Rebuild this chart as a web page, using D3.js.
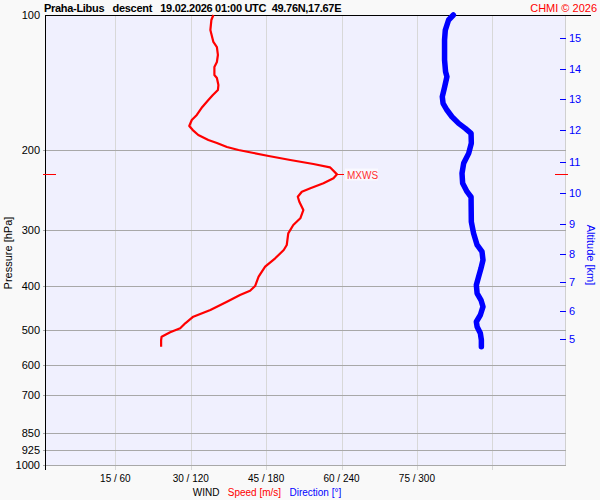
<!DOCTYPE html>
<html lang="en">
<head>
<meta charset="UTF-8">
<title>Praha-Libus descent wind</title>
<script src="https://cdn.jsdelivr.net/npm/d3@7"></script>
<style>
  body { margin: 0; background: #f9f9f9; }
  svg { display: block; font-family: "Liberation Sans", Arial, sans-serif; }
  .pre { white-space: pre; }
</style>
</head>
<body>
<div id="chart"></div>
<script>
    // Wind speed profile: pressure [hPa] and speed [m/s]
    const speedP = [100, 102.6, 108, 114.8, 117.8, 122.7, 127.2, 130.5, 135.9, 138, 143.1, 146.8, 150.6,
        154.5, 160.1, 166.8, 171.1, 176.5, 180.2, 184.8, 189.6, 192.5, 196.5, 199.5, 202.6, 205.7, 210,
        214.3, 218, 226, 230.6, 236.6, 242.7, 247, 253.4, 260, 271.3, 283, 292.9, 305.6, 324.4, 332.8,
        347.3, 362.5, 381.5, 400.2, 410, 419.1, 433.6, 452.5, 468.2, 484.3, 496.9, 507.2, 518.7, 527.5, 546];
    const speedV = [34.5, 34.1, 33.9, 34.5, 35.2, 35.4, 35.2, 34.7, 34.7, 35.2, 35.5, 35.4, 34.4,
        33.5, 32.3, 31.2, 30.2, 29.7, 30.4, 31.5, 33.5, 35.2, 37.2, 39.5, 42.5, 45.5, 49.8,
        54.4, 57.7, 59.1, 58.4, 56.4, 53.8, 52.1, 51.3, 51.6, 52.4, 51.8, 50.4, 49.4, 49.1, 48.5,
        46.8, 44.8, 43.5, 42.8, 41.8, 39.8, 37.2, 33.9, 30.5, 28.9, 27.9, 25.9, 24.2, 24.1, 24.1];

    // Wind direction profile: pressure [hPa] and direction [deg]
    const dirP = [100, 102.6, 108, 113.6, 125.9, 133.7, 137.1, 145.5, 151.9, 157.1, 162.6, 168.3, 174.1,
        178.6, 183.2, 192.8, 203, 213.6, 224.8, 236.6, 247, 253.8, 288, 305.6, 324.4, 335.7, 350.3,
        365.5, 381.5, 398.1, 415.3, 429.9, 444.8, 464.2, 480.4, 492.8, 509.7, 527.5, 546];
    const dirV = [329, 325.2, 322.6, 322, 322, 322.8, 323.9, 321.8, 320.2, 320.8, 323.9, 327.9, 333.2,
        338.5, 343.1, 343.3, 341.2, 337.2, 335.9, 336.4, 339.9, 343.1, 343.3, 345.1, 347.9, 351.8, 352.6,
        351, 349.1, 347.3, 347.9, 351, 352.6, 350.5, 347.3, 347.9, 350.5, 351.3, 351.3];

    // Max wind
    const maxWindP = 226;
    const maxWindV = 59.1;

    // Axes
    const pressureTicks = [100, 200, 300, 400, 500, 600, 700, 850, 925, 1000];
    const speedTicks = [15, 30, 45, 60, 75, 90];
    const windLabels = ["15 / 60", "30 / 120", "45 / 180", "60 / 240", "75 / 300", ""];
    const altitudeKm = [5, 6, 7, 8, 9, 10, 11, 12, 13, 14, 15];
    const altitudeP = [524.8, 454.8, 392.7, 340.2, 291.9, 249, 211.8, 180.4, 153.9, 132, 112.7];

    const W = 600, H = 500;
    const plot = { left: 45, right: 566, top: 15, bottom: 465 };

    const svg = d3.select("#chart").append("svg")
        .attr("width", W)
        .attr("height", H);

    // wind scales share the same pixels: 0 m/s and 0 deg sit at x=40
    const y = d3.scaleLog().domain([100, 1000]).range([plot.top, plot.bottom]);
    const xs = d3.scaleLinear().domain([0, 90]).range([40, 492.3]);
    const xd = d3.scaleLinear().domain([0, 360]).range([40, 492.3]);

    // plot background
    svg.append("rect")
        .attr("x", plot.left).attr("y", plot.top)
        .attr("width", plot.right - plot.left).attr("height", plot.bottom - plot.top)
        .attr("fill", "#f0f0fe");

    // vertical grid
    svg.selectAll(".vgrid")
        .data(speedTicks)
        .enter().append("line")
        .attr("class", "vgrid")
        .attr("x1", d => Math.round(xs(d)) + 0.5).attr("x2", d => Math.round(xs(d)) + 0.5)
        .attr("y1", plot.top).attr("y2", plot.bottom + 5)
        .attr("stroke", "#d8d8d8");

    svg.append("line")
        .attr("x1", plot.right - 0.5).attr("x2", plot.right - 0.5)
        .attr("y1", plot.top).attr("y2", plot.bottom)
        .attr("stroke", "#d0d0d0");

    // horizontal grid
    svg.selectAll(".hgrid")
        .data(pressureTicks.slice(1))
        .enter().append("line")
        .attr("class", "hgrid")
        .attr("x1", plot.left - 2).attr("x2", plot.right)
        .attr("y1", d => Math.round(y(d)) + 0.5).attr("y2", d => Math.round(y(d)) + 0.5)
        .attr("stroke", "#a8a8a8");

    // pressure labels
    svg.selectAll(".plab")
        .data(pressureTicks)
        .enter().append("text")
        .attr("x", 40)
        .attr("y", d => y(d) + 4)
        .attr("text-anchor", "end")
        .attr("font-size", 11)
        .attr("fill", "#000")
        .text(d => d);

    // frame lines
    svg.append("line")
        .attr("x1", plot.left).attr("x2", 591)
        .attr("y1", plot.top + 0.5).attr("y2", plot.top + 0.5)
        .attr("stroke", "#000");
    svg.append("line")
        .attr("x1", plot.left + 0.5).attr("x2", plot.left + 0.5)
        .attr("y1", plot.top).attr("y2", plot.bottom + 5)
        .attr("stroke", "#000");

    // wind labels
    svg.selectAll(".wlab")
        .data(d3.zip(speedTicks, windLabels))
        .enter().append("text")
        .attr("class", "pre")
        .attr("x", d => xs(d[0]))
        .attr("y", 482)
        .attr("text-anchor", "middle")
        .attr("font-size", 10)
        .text(d => d[1]);

    const legend = svg.append("text")
        .attr("class", "pre")
        .attr("x", 267)
        .attr("y", 496)
        .attr("text-anchor", "middle")
        .attr("font-size", 10);
    legend.append("tspan").attr("fill", "#000").text("WIND   ");
    legend.append("tspan").attr("fill", "#ff0000").text("Speed [m/s]   ");
    legend.append("tspan").attr("fill", "#0000ff").text("Direction [°]");

    // altitude axis
    svg.selectAll(".atick")
        .data(altitudeP)
        .enter().append("line")
        .attr("x1", 560).attr("x2", 566)
        .attr("y1", d => Math.round(y(d)) + 0.5).attr("y2", d => Math.round(y(d)) + 0.5)
        .attr("stroke", "#0000ff");
    svg.selectAll(".alab")
        .data(d3.zip(altitudeP, altitudeKm))
        .enter().append("text")
        .attr("x", 569)
        .attr("y", d => y(d[0]) + 4)
        .attr("font-size", 11)
        .attr("fill", "#0000ff")
        .text(d => d[1]);

    svg.append("text")
        .attr("transform", "translate(587,255) rotate(90)")
        .attr("text-anchor", "middle")
        .attr("font-size", 11)
        .attr("fill", "#0000ff")
        .text("Altitude [km]");

    svg.append("text")
        .attr("transform", "translate(12,253) rotate(-90)")
        .attr("text-anchor", "middle")
        .attr("font-size", 11)
        .attr("fill", "#000")
        .text("Pressure [hPa]");

    // title
    svg.append("text")
        .attr("class", "pre")
        .attr("x", 44)
        .attr("y", 12)
        .attr("font-size", 11)
        .attr("letter-spacing", -0.3)
        .attr("font-weight", "bold")
        .text("Praha-Libus   descent   19.02.2026 01:00 UTC  49.76N,17.67E");
    svg.append("text")
        .attr("x", 597)
        .attr("y", 12)
        .attr("text-anchor", "end")
        .attr("font-size", 11)
        .attr("fill", "#ff0000")
        .text("CHMI © 2026");

    const line = d3.line().x(d => d[0]).y(d => d[1]);

    // direction (blue)
    svg.append("path")
        .datum(d3.zip(dirP, dirV).map(d => [xd(d[1]), y(d[0])]))
        .attr("d", line)
        .attr("fill", "none")
        .attr("stroke", "#0000ff")
        .attr("stroke-width", 5.5)
        .attr("stroke-linecap", "round")
        .attr("stroke-linejoin", "round");

    // speed (red)
    svg.append("path")
        .datum(d3.zip(speedP, speedV).map(d => [xs(d[1]), y(d[0])]))
        .attr("d", line)
        .attr("fill", "none")
        .attr("stroke", "#ff0000")
        .attr("stroke-width", 2.2)
        .attr("stroke-linejoin", "round");

    // max wind marker
    const my = Math.round(y(maxWindP)) + 0.5;
    svg.append("line")
        .attr("x1", 43).attr("x2", 56).attr("y1", my).attr("y2", my)
        .attr("stroke", "#ff0000");
    svg.append("line")
        .attr("x1", 555).attr("x2", 568).attr("y1", my).attr("y2", my)
        .attr("stroke", "#ff0000");
    svg.append("line")
        .attr("x1", xs(maxWindV)).attr("x2", xs(maxWindV) + 7).attr("y1", my).attr("y2", my)
        .attr("stroke", "#ff0000");
    svg.append("rect")
        .attr("x", xs(maxWindV) + 8).attr("y", my - 6)
        .attr("width", 33).attr("height", 12)
        .attr("fill", "#ffffff").attr("opacity", 0.6);
    svg.append("text")
        .attr("x", xs(maxWindV) + 10)
        .attr("y", my + 4)
        .attr("font-size", 10)
        .attr("fill", "#ff3030")
        .text("MXWS");
</script>
</body>
</html>
